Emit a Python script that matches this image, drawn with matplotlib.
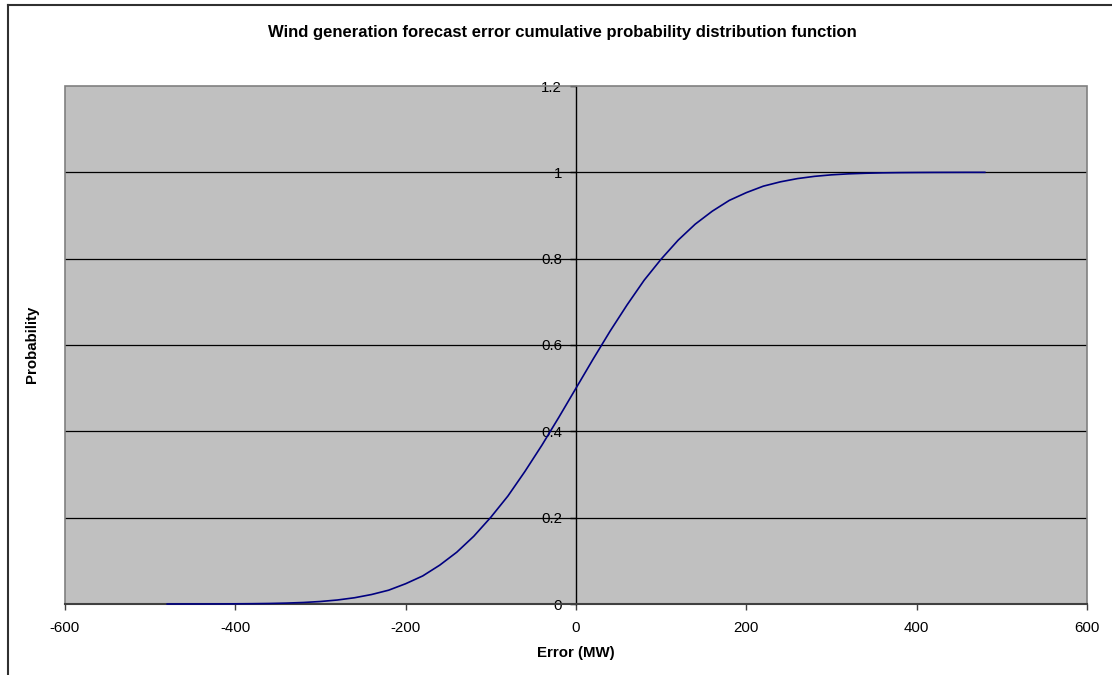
import numpy as np
import matplotlib
matplotlib.use("Agg")
import matplotlib.pyplot as plt
from matplotlib.lines import Line2D
from matplotlib.patches import Rectangle

plt.rcParams['font.family'] = ['Liberation Sans', 'DejaVu Sans']
plt.rcParams['axes.unicode_minus'] = False

# Forecast error (MW) and cumulative probability
error_mw = [-480, -460, -440, -420, -400, -380, -360, -340, -320, -300,
            -280, -260, -240, -220, -200, -180, -160, -140, -120, -100,
            -80, -60, -40, -20, 0, 20, 40, 60, 80, 100,
            120, 140, 160, 180, 200, 220, 240, 260, 280, 300,
            320, 340, 360, 380, 400, 420, 440, 460, 480]
probability = [0.0000, 0.0001, 0.0001, 0.0002, 0.0004, 0.0007, 0.0012, 0.0021, 0.0035, 0.0058,
               0.0093, 0.0145, 0.022, 0.032, 0.047, 0.065, 0.090, 0.120, 0.157, 0.201,
               0.250, 0.307, 0.368, 0.433, 0.500, 0.567, 0.632, 0.693, 0.750, 0.799,
               0.843, 0.880, 0.910, 0.935, 0.953, 0.968, 0.978, 0.9855, 0.9907, 0.9942,
               0.9965, 0.9979, 0.9988, 0.9993, 0.9996, 0.9998, 0.9999, 1.0, 1.0]

x_ticks = [-600, -400, -200, 0, 200, 400, 600]
y_ticks = [0, 0.2, 0.4, 0.6, 0.8, 1, 1.2]
y_labels = ["0", "0.2", "0.4", "0.6", "0.8", "1", "1.2"]

W, H = 1112, 675
fig = plt.figure(figsize=(W / 100, H / 100), dpi=100)
fig.patch.set_facecolor("white")

# chart area border (only left and top visible in the crop)
bx, by = 7.5 / W, 1 - 4.5 / H
fig.add_artist(Line2D([bx, bx], [0, by], transform=fig.transFigure, color="#303030", lw=1.5))
fig.add_artist(Line2D([bx, 1], [by, by], transform=fig.transFigure, color="#303030", lw=1.5))

ax = fig.add_axes([65 / W, 1 - 604 / H, (1087 - 65) / W, (604 - 86) / H])
ax.set_facecolor("#C0C0C0")
ax.set_xlim(-600, 600)
ax.set_ylim(0, 1.2)

for y in y_ticks[1:-1]:
    ax.axhline(y, color="black", lw=0.9, zorder=1)

# curve sits on top of the axis line where it is ~0
ax.plot(error_mw, probability, color="#000080", lw=1.2, zorder=6, clip_on=False)

# plot area frame
ax.add_patch(Rectangle((0, 0), 1, 1, transform=ax.transAxes, fill=False,
                       edgecolor="#808080", lw=1.2, zorder=4, clip_on=False))

for s in ["top", "right"]:
    ax.spines[s].set_visible(False)
ax.spines["left"].set_position(("data", 0))
ax.spines["left"].set_color("black")
ax.spines["left"].set_linewidth(1.0)
ax.spines["left"].set_zorder(2)
ax.spines["bottom"].set_color("#404040")
ax.spines["bottom"].set_linewidth(1.5)
ax.spines["bottom"].set_zorder(5)

ax.set_xticks(x_ticks)
ax.set_yticks(y_ticks)
ax.set_yticklabels(y_labels)
ax.tick_params(axis="x", direction="out", length=4, width=1, color="#404040",
               labelsize=10.8, pad=8.5)
ax.tick_params(axis="y", direction="out", length=4, width=1, color="black",
               labelsize=10.8, pad=6)

fig.text(562 / W, 1 - 33 / H, "Wind generation forecast error cumulative probability distribution function",
         ha="center", va="center", fontsize=12, fontweight="bold")
fig.text(576 / W, 1 - 653 / H, "Error (MW)", ha="center", va="center",
         fontsize=10.8, fontweight="bold")
fig.text(32 / W, 1 - 344 / H, "Probability", ha="center", va="center",
         rotation=90, fontsize=10.8, fontweight="bold")

fig.savefig("out.png", dpi=100)
